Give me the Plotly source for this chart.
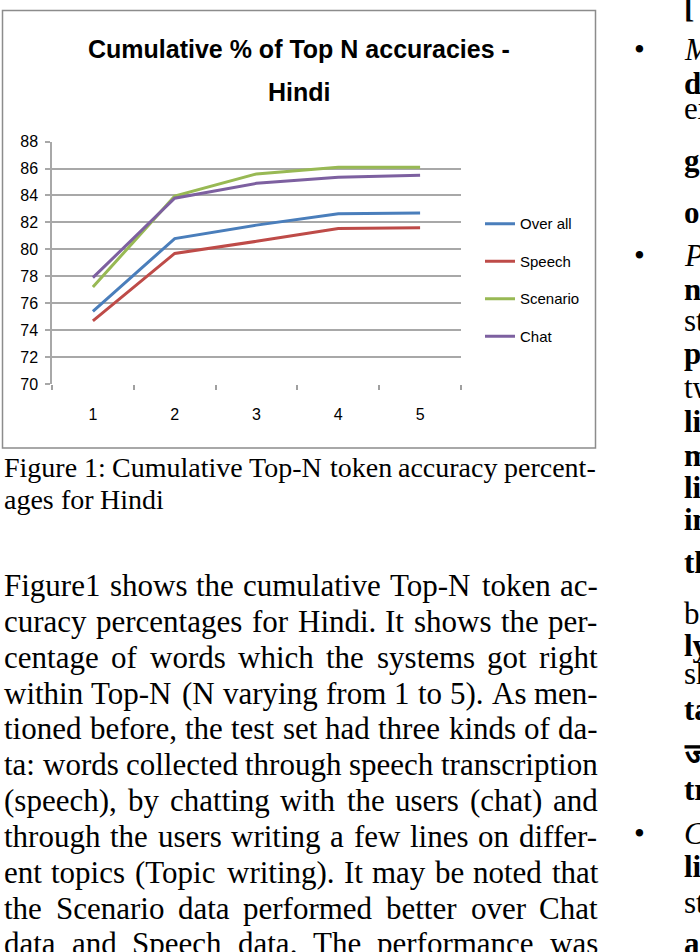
import plotly.graph_objects as go

W, H = 700, 952

# ---------------- data ----------------
top_n = ["1", "2", "3", "4", "5"]
overall = [75.4, 80.8, 81.8, 82.65, 82.7]
speech = [74.7, 79.7, 80.6, 81.55, 81.6]
scenario = [77.2, 83.95, 85.6, 86.1, 86.1]
chat = [77.9, 83.8, 84.9, 85.35, 85.5]
series_names = ["Over all", "Speech", "Scenario", "Chat"]
series_colors = ["#4A7EBB", "#BE4B48", "#98B954", "#7D60A0"]
y_ticks = [70, 72, 74, 76, 78, 80, 82, 84, 86, 88]

title_lines = ["Cumulative % of Top N accuracies -", "Hindi"]
caption_lines = [
    "Figure 1: Cumulative Top-N token accuracy percent-",
    "ages for Hindi",
]
body_lines = [
    "Figure1 shows the cumulative Top-N token ac-",
    "curacy percentages for Hindi. It shows the per-",
    "centage of words which the systems got right",
    "within Top-N (N varying from 1 to 5). As men-",
    "tioned before, the test set had three kinds of da-",
    "ta: words collected through speech transcription",
    "(speech), by chatting with the users (chat) and",
    "through the users writing a few lines on differ-",
    "ent topics (Topic writing). It may be noted that",
    "the Scenario data performed better over Chat",
    "data and Speech data. The performance was",
]
# right column fragments (text, style) - cut by page edge
right_col = [
    ("[", "b"), ("•M", "i"), ("d", "b"), ("ex", "r"), ("g", "b"), ("o", "b"),
    ("•P", "i"), ("n", "b"), ("st", "r"), ("p", "b"), ("tw", "r"), ("li", "b"),
    ("m", "b"), ("li", "b"), ("in", "b"), ("th", "b"), ("b", "r"), ("ly", "b"),
    ("sh", "r"), ("ta", "b"), ("ज", "b"), ("tr", "b"), ("•C", "i"), ("li", "b"),
    ("st", "r"), ("a", "b"),
]
right_col_y = [-2, 42, 77, 102, 155, 208, 252, 287, 318, 352, 386, 421, 456,
               488, 521, 565, 617, 649, 678, 714, 760, 796, 841, 874, 911, 952]

# ---------------- helpers ----------------
def px(x):
    return x / W

def py(y):
    return 1 - y / H

TNR = {' ': 250, '!': 333, '(': 333, ')': 333, ',': 250, '-': 333, '.': 250,
       ':': 278, ';': 278, '%': 833,
       'A': 722, 'B': 667, 'C': 667, 'D': 722, 'E': 611, 'F': 556, 'G': 722,
       'H': 722, 'I': 333, 'J': 389, 'K': 722, 'L': 611, 'M': 889, 'N': 722,
       'O': 722, 'P': 556, 'Q': 722, 'R': 667, 'S': 556, 'T': 611, 'U': 722,
       'V': 722, 'W': 944, 'X': 722, 'Y': 722, 'Z': 611,
       'a': 444, 'b': 500, 'c': 444, 'd': 500, 'e': 444, 'f': 333, 'g': 500,
       'h': 500, 'i': 278, 'j': 278, 'k': 500, 'l': 278, 'm': 778, 'n': 500,
       'o': 500, 'p': 500, 'q': 500, 'r': 333, 's': 389, 't': 278, 'u': 500,
       'v': 500, 'w': 722, 'x': 500, 'y': 500, 'z': 444}
for d in "0123456789":
    TNR[d] = 500

def tw(s, size):
    return sum(TNR.get(c, 500) for c in s) / 1000.0 * size

SERIF = "Liberation Serif, Times New Roman, serif"
SANS = "Liberation Sans, Arial, sans-serif"

annotations = []

def justify(line, y, size, x0, x1, last=False):
    words = line.split(" ")
    widths = [tw(w, size) for w in words]
    if last or len(words) == 1:
        gap = tw(" ", size)
    else:
        gap = (x1 - x0 - sum(widths)) / (len(words) - 1)
    x = x0
    for w, wd in zip(words, widths):
        annotations.append(dict(
            x=px(x), y=py(y), xref="paper", yref="paper", text=w,
            showarrow=False, xanchor="left", yanchor="middle",
            borderpad=0, font=dict(family=SERIF, size=size, color="#000")))
        x += wd + gap

# ---------------- figure ----------------
fig = go.Figure()
series = [overall, speech, scenario, chat]
for i, (name, vals, col) in enumerate(zip(series_names, series, series_colors)):
    fig.add_trace(go.Scatter(
        x=top_n, y=vals, mode="lines", name=name, legendgroup=name,
        line=dict(color=col, width=3),
    ))

# chart title
for txt, y in zip(title_lines, [42, 86]):
    annotations.append(dict(x=px(299), y=py(y), xref="paper", yref="paper",
                            text="<b>%s</b>" % txt, showarrow=False,
                            xanchor="center", yanchor="middle",
                            font=dict(family=SANS, size=25, color="#000")))

# caption
cap_y = [468, 500]
for i, line in enumerate(caption_lines):
    justify(line, cap_y[i], 28, 3, 595, last=(i == len(caption_lines) - 1))

# body
for i, line in enumerate(body_lines):
    justify(line, 588 + 36.5 * i, 31, 3, 597)

# right column
for (t, s), y in zip(right_col, right_col_y):
    if t.startswith("•"):
        annotations.append(dict(x=px(633), y=py(y), xref="paper", yref="paper",
                                text="•", showarrow=False, xanchor="left",
                                yanchor="middle", borderpad=0,
                                font=dict(family=SERIF, size=31, color="#000")))
        t = t[1:]
    txt = {"b": "<b>%s</b>", "i": "<i>%s</i>", "r": "%s"}[s] % t
    annotations.append(dict(x=px(683), y=py(y), xref="paper", yref="paper",
                            text=txt, showarrow=False, xanchor="left",
                            yanchor="middle", borderpad=0,
                            font=dict(family=SERIF, size=31, color="#000")))

fig.update_layout(
    width=W, height=H, margin=dict(l=0, r=0, t=0, b=0),
    paper_bgcolor="white", plot_bgcolor="white",
    showlegend=True,
    legend=dict(x=px(480), y=py(203), xanchor="left", yanchor="top",
                font=dict(family=SANS, size=15, color="#000"),
                tracegroupgap=15, bgcolor="rgba(0,0,0,0)"),
    xaxis=dict(domain=[px(52), px(461)], type="category", range=[-0.5, 4.5],
               showgrid=False, showline=False, zeroline=False,
               ticks="outside", tickson="boundaries", ticklen=5,
               tickcolor="#A0A0A0", tickwidth=1.5, ticklabelstandoff=19,
               tickfont=dict(family=SANS, size=16, color="#000")),
    yaxis=dict(domain=[py(383), py(136)], range=[70, 88], tickvals=y_ticks,
               showgrid=True, gridcolor="#A8A8A8", gridwidth=1.5,
               showline=True, linecolor="#A8A8A8", linewidth=1.5,
               zeroline=False, ticks="outside", ticklen=5,
               tickcolor="#A8A8A8", tickwidth=1.5, ticklabelstandoff=4,
               tickfont=dict(family=SANS, size=16, color="#000")),
    annotations=annotations,
    shapes=[dict(type="rect", xref="paper", yref="paper",
                 x0=px(2.5), x1=px(595.5), y0=py(448), y1=py(2.5),
                 line=dict(color="#8C8C8C", width=1.5))],
)

fig.write_html("out.html")
